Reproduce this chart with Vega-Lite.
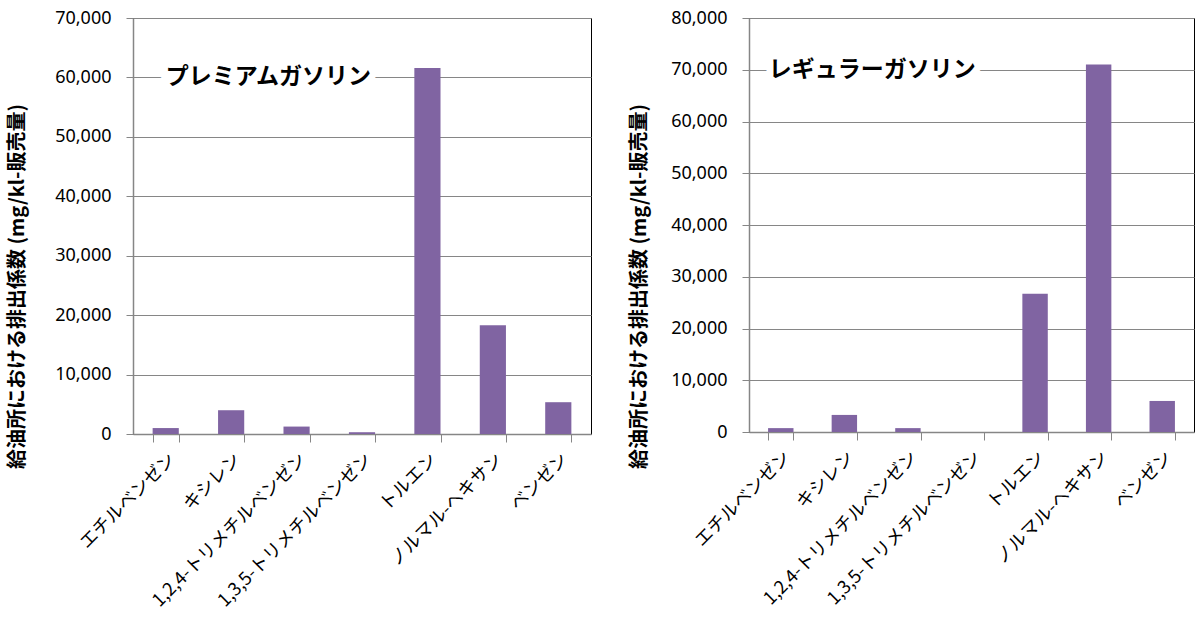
{
  "$schema": "https://vega.github.io/schema/vega-lite/v6.json",
  "background": "white",
  "padding": {"left": 6, "top": 8, "right": 3, "bottom": 0},
  "spacing": 36,
  "datasets": {
    "emissions": [
      {"fuel": "premium", "compound": "エチルベンゼン", "value": 1000},
      {"fuel": "premium", "compound": "キシレン", "value": 4000},
      {"fuel": "premium", "compound": "1,2,4-トリメチルベンゼン", "value": 1250},
      {"fuel": "premium", "compound": "1,3,5-トリメチルベンゼン", "value": 300},
      {"fuel": "premium", "compound": "トルエン", "value": 61600},
      {"fuel": "premium", "compound": "ノルマル-ヘキサン", "value": 18300},
      {"fuel": "premium", "compound": "ベンゼン", "value": 5350},
      {"fuel": "regular", "compound": "エチルベンゼン", "value": 750},
      {"fuel": "regular", "compound": "キシレン", "value": 3300},
      {"fuel": "regular", "compound": "1,2,4-トリメチルベンゼン", "value": 750},
      {"fuel": "regular", "compound": "1,3,5-トリメチルベンゼン", "value": 0},
      {"fuel": "regular", "compound": "トルエン", "value": 26700},
      {"fuel": "regular", "compound": "ノルマル-ヘキサン", "value": 71000},
      {"fuel": "regular", "compound": "ベンゼン", "value": 6000}
    ],
    "labels": [
      {"fuel": "premium", "label": "プレミアムガソリン", "compound": "エチルベンゼン", "value": 60000},
      {"fuel": "regular", "label": "レギュラーガソリン", "compound": "エチルベンゼン", "value": 70000}
    ]
  },
  "config": {
    "font": "Noto Sans CJK JP",
    "view": {"stroke": "#000000", "strokeWidth": 1},
    "axis": {
      "domainColor": "#868686",
      "domainWidth": 1.5,
      "tickColor": "#868686",
      "tickWidth": 1,
      "gridColor": "#868686",
      "gridWidth": 1,
      "labelColor": "#000000",
      "titleColor": "#000000",
      "labelLimit": 0,
      "titleLimit": 0
    }
  },
  "hconcat": [
    {
      "width": 458,
      "height": 416,
      "layer": [
        {
          "data": {"name": "emissions"},
          "transform": [{"filter": "datum.fuel === 'premium'"}],
          "mark": {"type": "bar", "color": "#8064A2"},
          "encoding": {
            "x": {
              "field": "compound", "type": "nominal", "sort": null,
              "scale": {"domain": ["エチルベンゼン", "キシレン", "1,2,4-トリメチルベンゼン", "1,3,5-トリメチルベンゼン", "トルエン", "ノルマル-ヘキサン", "ベンゼン"], "paddingInner": 0.6, "paddingOuter": 0.3},
              "axis": {"title": null, "labelAngle": -45, "labelFontSize": 18, "labelFont": "Noto Sans CJK JP", "labelLimit": 0, "tickBand": "extent", "tickSize": 8, "labelPadding": 8, "grid": false}
            },
            "y": {
              "field": "value", "type": "quantitative",
              "scale": {"domain": [0, 70000]},
              "axis": {
                "values": [0, 10000, 20000, 30000, 40000, 50000, 60000, 70000],
                "format": ",d", "labelFont": "Noto Sans", "labelFontSize": 18, "tickSize": 7, "labelPadding": 15,
                "title": "給油所における排出係数 (mg/kl-販売量)", "titleFont": "Noto Sans CJK JP", "titleFontSize": 20, "titleFontWeight": "bold", "titleLimit": 0,
                "titleX": -116, "titleY": 268, "titleAlign": "center", "titleBaseline": "middle", "titleAngle": -90
              }
            }
          }
        },
        {
          "data": {"name": "labels"},
          "transform": [{"filter": "datum.fuel === 'premium'"}],
          "mark": {"type": "text", "align": "left", "baseline": "middle", "fontSize": 23, "fontWeight": "bold", "font": "Noto Sans CJK JP", "fill": "white", "stroke": "white", "strokeWidth": 14},
          "encoding": {
            "x": {"field": "compound", "type": "nominal"},
            "y": {"field": "value", "type": "quantitative"},
            "text": {"field": "label"}
          }
        },
        {
          "data": {"name": "labels"},
          "transform": [{"filter": "datum.fuel === 'premium'"}],
          "mark": {"type": "text", "align": "left", "baseline": "middle", "fontSize": 23, "fontWeight": "bold", "font": "Noto Sans CJK JP", "fill": "black"},
          "encoding": {
            "x": {"field": "compound", "type": "nominal"},
            "y": {"field": "value", "type": "quantitative"},
            "text": {"field": "label"}
          }
        }
      ]
    },
    {
      "width": 445,
      "height": 414,
      "layer": [
        {
          "data": {"name": "emissions"},
          "transform": [{"filter": "datum.fuel === 'regular'"}],
          "mark": {"type": "bar", "color": "#8064A2"},
          "encoding": {
            "x": {
              "field": "compound", "type": "nominal", "sort": null,
              "scale": {"domain": ["エチルベンゼン", "キシレン", "1,2,4-トリメチルベンゼン", "1,3,5-トリメチルベンゼン", "トルエン", "ノルマル-ヘキサン", "ベンゼン"], "paddingInner": 0.6, "paddingOuter": 0.3},
              "axis": {"title": null, "labelAngle": -45, "labelFontSize": 18, "labelFont": "Noto Sans CJK JP", "labelLimit": 0, "tickBand": "extent", "tickSize": 8, "labelPadding": 8, "grid": false}
            },
            "y": {
              "field": "value", "type": "quantitative",
              "scale": {"domain": [0, 80000]},
              "axis": {
                "values": [0, 10000, 20000, 30000, 40000, 50000, 60000, 70000, 80000],
                "format": ",d", "labelFont": "Noto Sans", "labelFontSize": 18, "tickSize": 7, "labelPadding": 15,
                "title": "給油所における排出係数 (mg/kl-販売量)", "titleFont": "Noto Sans CJK JP", "titleFontSize": 20, "titleFontWeight": "bold", "titleLimit": 0,
                "titleX": -110, "titleY": 268, "titleAlign": "center", "titleBaseline": "middle", "titleAngle": -90
              }
            }
          }
        },
        {
          "data": {"name": "labels"},
          "transform": [{"filter": "datum.fuel === 'regular'"}],
          "mark": {"type": "text", "align": "left", "baseline": "middle", "dx": -12, "fontSize": 23, "fontWeight": "bold", "font": "Noto Sans CJK JP", "fill": "white", "stroke": "white", "strokeWidth": 14},
          "encoding": {
            "x": {"field": "compound", "type": "nominal"},
            "y": {"field": "value", "type": "quantitative"},
            "text": {"field": "label"}
          }
        },
        {
          "data": {"name": "labels"},
          "transform": [{"filter": "datum.fuel === 'regular'"}],
          "mark": {"type": "text", "align": "left", "baseline": "middle", "dx": -12, "fontSize": 23, "fontWeight": "bold", "font": "Noto Sans CJK JP", "fill": "black"},
          "encoding": {
            "x": {"field": "compound", "type": "nominal"},
            "y": {"field": "value", "type": "quantitative"},
            "text": {"field": "label"}
          }
        }
      ]
    }
  ]
}
